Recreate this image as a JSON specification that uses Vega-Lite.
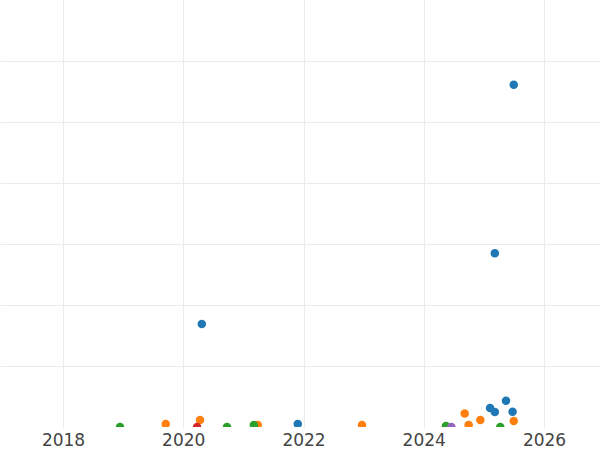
{
  "$schema": "https://vega.github.io/schema/vega-lite/v6.json",
  "width": 600,
  "height": 427,
  "padding": {"left": 0, "top": 0, "right": 0, "bottom": 23},
  "autosize": "none",
  "config": {"view": {"stroke": null}, "axis": {"gridColor": "#ebebeb"}},
  "data": {
    "values": [
      {"date": "2025-07-01", "value": 56.1, "group": "A"},
      {"date": "2025-03-08", "value": 28.5, "group": "A"},
      {"date": "2020-04-23", "value": 16.9, "group": "A"},
      {"date": "2025-05-15", "value": 4.3, "group": "A"},
      {"date": "2025-02-07", "value": 3.1, "group": "A"},
      {"date": "2025-03-08", "value": 2.46, "group": "A"},
      {"date": "2025-06-24", "value": 2.5, "group": "A"},
      {"date": "2021-11-27", "value": 0.5, "group": "A"},
      {"date": "2024-09-06", "value": 2.2, "group": "B"},
      {"date": "2024-12-10", "value": 1.15, "group": "B"},
      {"date": "2025-07-01", "value": 1.0, "group": "B"},
      {"date": "2024-09-30", "value": 0.33, "group": "B"},
      {"date": "2022-12-22", "value": 0.33, "group": "B"},
      {"date": "2019-09-17", "value": 0.5, "group": "B"},
      {"date": "2020-04-12", "value": 1.15, "group": "B"},
      {"date": "2021-03-29", "value": 0.33, "group": "B"},
      {"date": "2018-12-13", "value": 0, "group": "C"},
      {"date": "2020-09-23", "value": 0, "group": "C"},
      {"date": "2021-03-05", "value": 0.33, "group": "C"},
      {"date": "2024-05-15", "value": 0.15, "group": "C"},
      {"date": "2025-04-10", "value": 0, "group": "C"},
      {"date": "2020-03-25", "value": 0, "group": "D"},
      {"date": "2024-06-17", "value": 0, "group": "E"}
    ]
  },
  "mark": {"type": "point", "filled": true, "size": 72, "opacity": 1, "clip": true},
  "encoding": {
    "x": {
      "field": "date",
      "type": "temporal",
      "scale": {"domain": ["2016-12-14", "2026-12-07"]},
      "axis": {
        "title": null,
        "domain": false,
        "ticks": false,
        "format": "%Y",
        "values": ["2018-01-01", "2020-01-01", "2022-01-01", "2024-01-01", "2026-01-01"],
        "labelFont": "DejaVu Sans",
        "labelFontSize": 17,
        "labelColor": "#444",
        "labelPadding": 5,
        "labelFlush": false
      }
    },
    "y": {
      "field": "value",
      "type": "quantitative",
      "scale": {"domain": [0, 70], "nice": false},
      "axis": {
        "title": null,
        "domain": false,
        "ticks": false,
        "labels": false,
        "values": [10, 20, 30, 40, 50, 60]
      }
    },
    "color": {
      "field": "group",
      "type": "nominal",
      "scale": {"domain": ["A", "B", "C", "D", "E"], "range": ["#1f77b4", "#ff7f0e", "#2ca02c", "#d62728", "#9467bd"]},
      "legend": null
    }
  }
}
